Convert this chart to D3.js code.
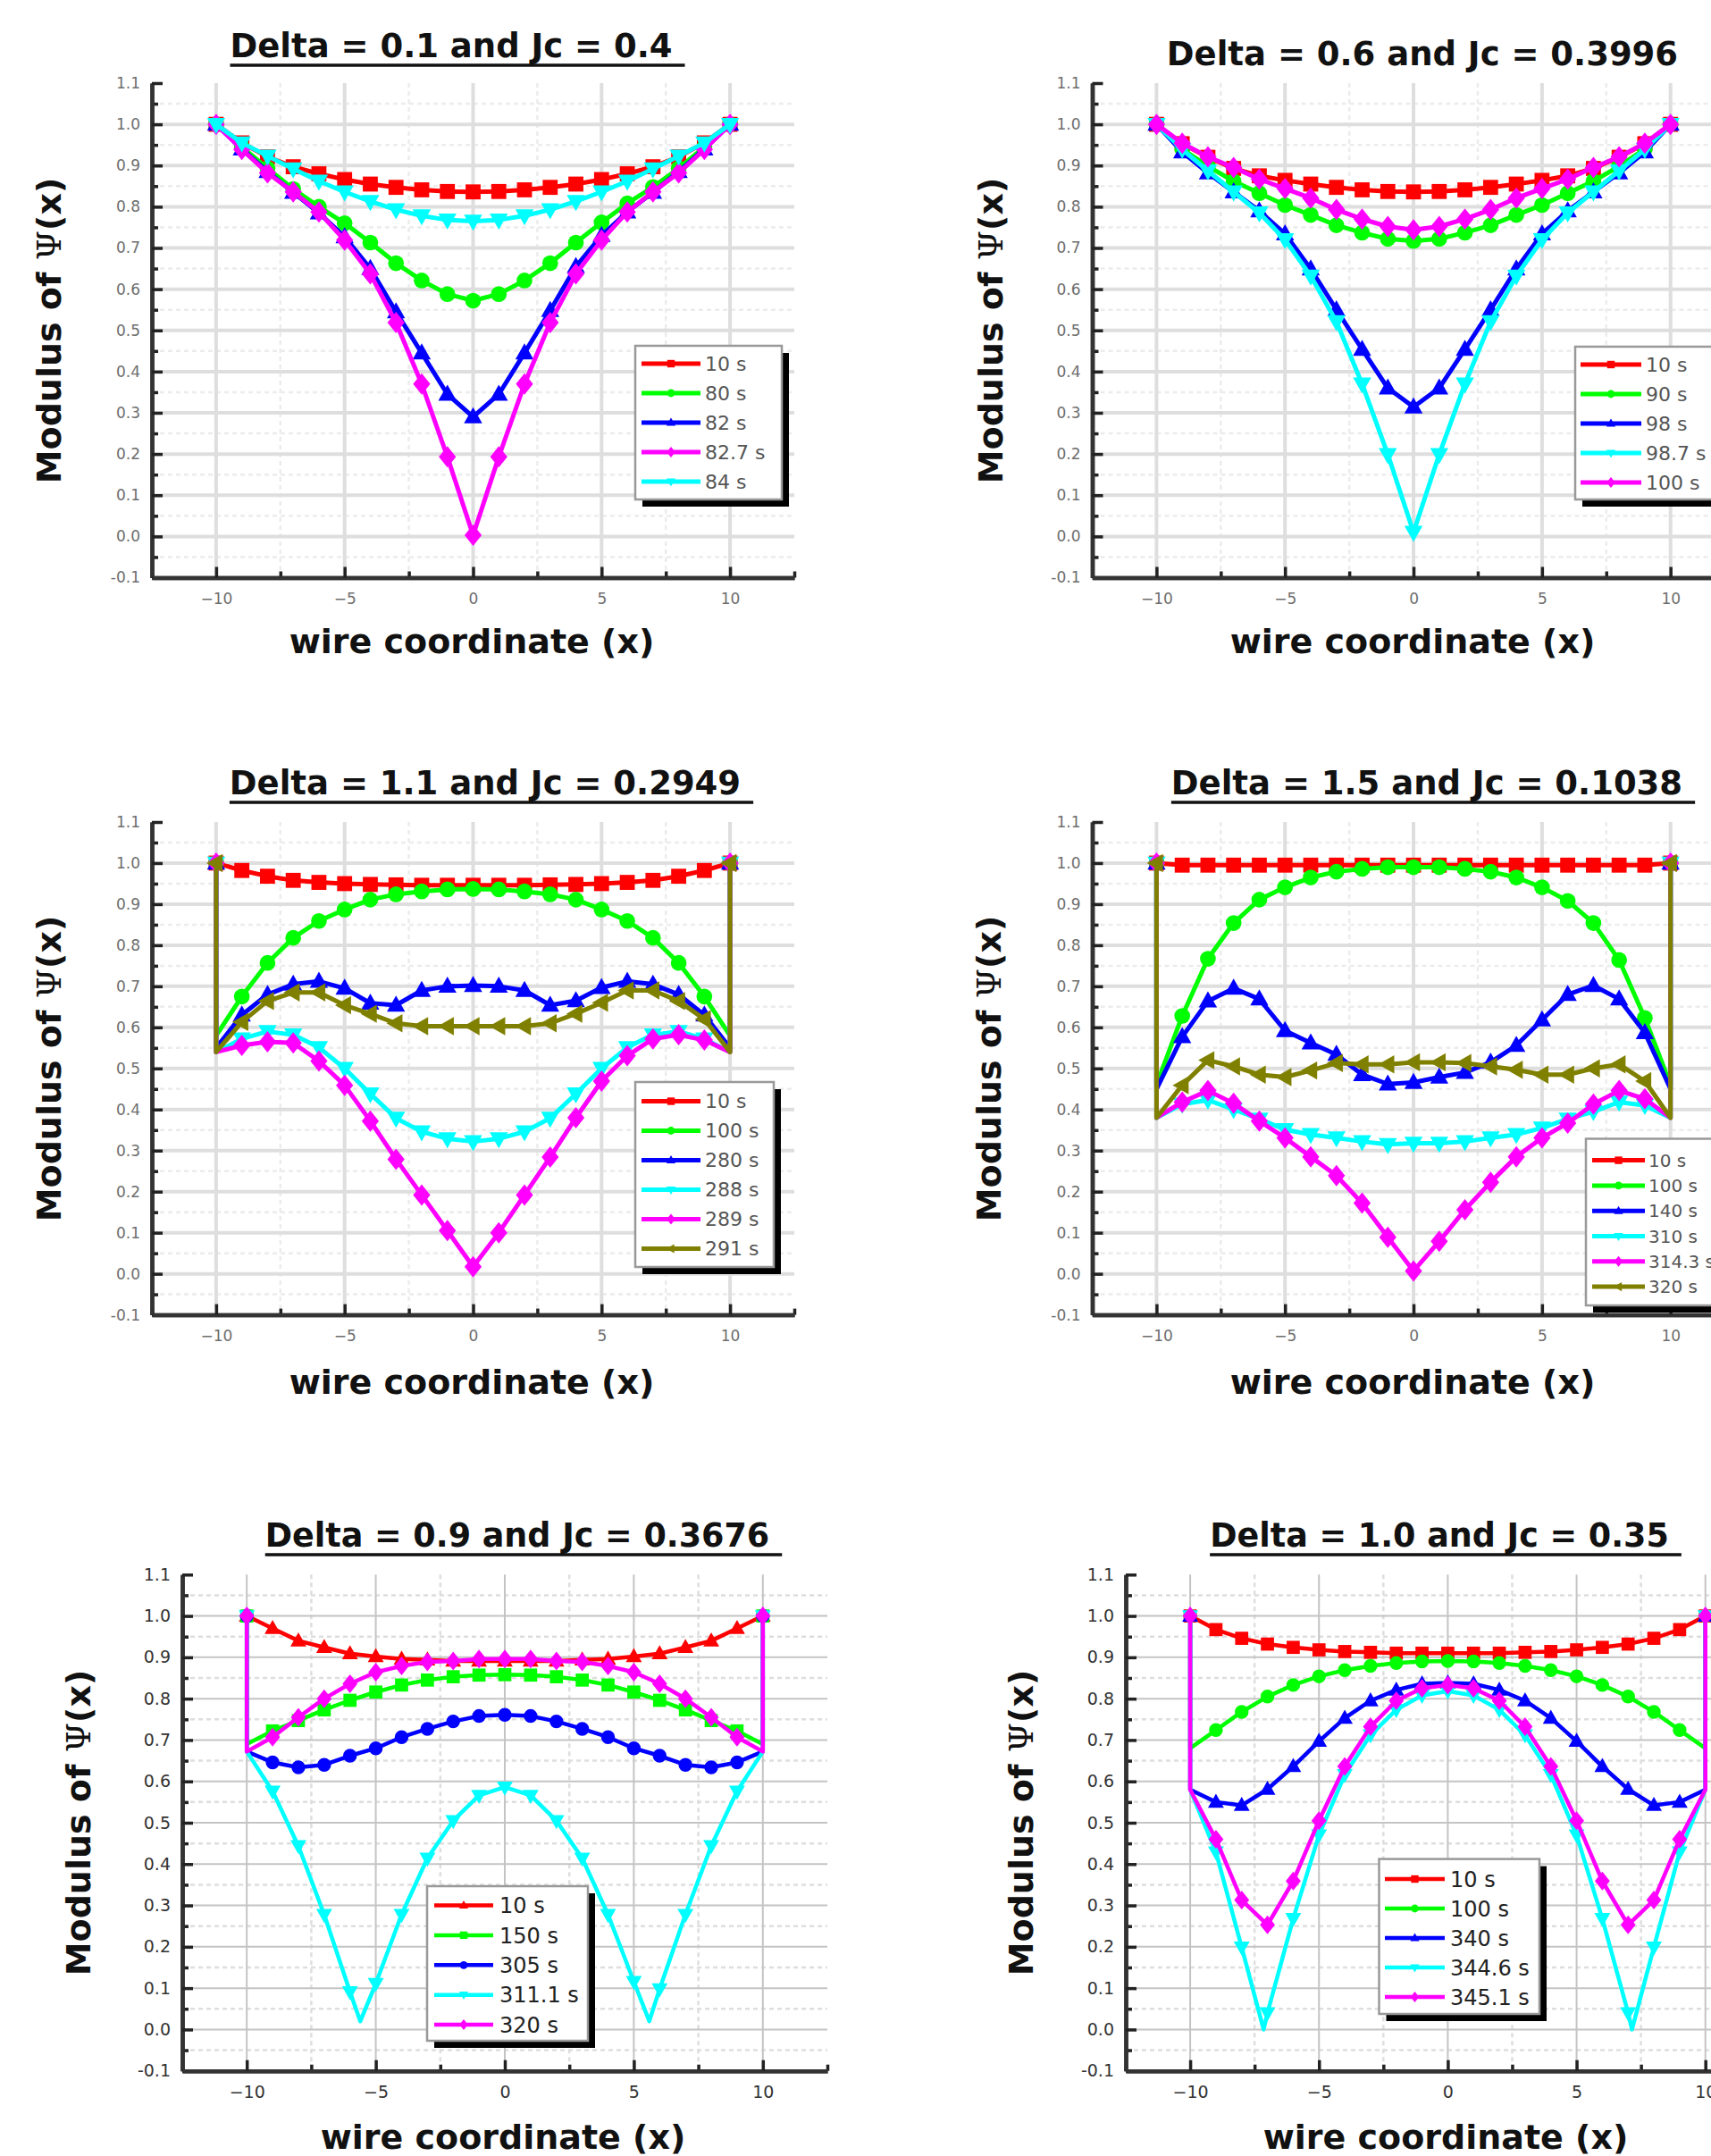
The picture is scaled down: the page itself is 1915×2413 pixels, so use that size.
<!DOCTYPE html>
<html>
<head>
<meta charset="utf-8">
<script src="https://cdnjs.cloudflare.com/ajax/libs/d3/7.8.5/d3.min.js"></script>
<style>
  body { margin: 0; background: #fff; }
</style>
</head>
<body>
<svg id="chart" width="1915" height="2413"></svg>
<script>
// ---------------- shared ----------------
const xPositions = [-10, -9, -8, -7, -6, -5, -4, -3, -2, -1, 0, 1, 2, 3, 4, 5, 6, 7, 8, 9, 10];
const xTickValues = [-10, -5, 0, 5, 10];
const yTickValues = [-0.1, 0, 0.1, 0.2, 0.3, 0.4, 0.5, 0.6, 0.7, 0.8, 0.9, 1.0, 1.1];
const yTickLabels = ["-0.1", "0.0", "0.1", "0.2", "0.3", "0.4", "0.5", "0.6", "0.7", "0.8", "0.9", "1.0", "1.1"];
const xAxisTitle = "wire coordinate (x)";

// ---------------- panel 1 ----------------
const p1Title = "Delta = 0.1 and Jc = 0.4";
const p1Labels = ["10 s", "80 s", "82 s", "82.7 s", "84 s"];
const p1Values = [
  [1.000, 0.955, 0.921, 0.897, 0.880, 0.866, 0.855, 0.847, 0.841, 0.837, 0.836, 0.837, 0.841, 0.847, 0.855, 0.866, 0.880, 0.897, 0.921, 0.955, 1.000],
  [1.000, 0.945, 0.893, 0.843, 0.800, 0.760, 0.713, 0.663, 0.621, 0.588, 0.572, 0.588, 0.621, 0.663, 0.713, 0.762, 0.808, 0.848, 0.893, 0.945, 1.000],
  [1.000, 0.940, 0.885, 0.835, 0.785, 0.727, 0.650, 0.545, 0.445, 0.345, 0.290, 0.345, 0.445, 0.548, 0.655, 0.730, 0.787, 0.835, 0.885, 0.940, 1.000],
  [1.000, 0.939, 0.882, 0.836, 0.787, 0.719, 0.637, 0.519, 0.370, 0.193, 0.003, 0.193, 0.370, 0.519, 0.637, 0.719, 0.787, 0.836, 0.882, 0.939, 1.000],
  [1.000, 0.955, 0.923, 0.892, 0.862, 0.836, 0.813, 0.793, 0.778, 0.768, 0.765, 0.768, 0.778, 0.793, 0.813, 0.836, 0.862, 0.892, 0.923, 0.955, 1.000]
];
const p1Edges = [null, null, null, null, null];
const p1Dips = [null, null, null, null, null];

// ---------------- panel 2 ----------------
const p2Title = "Delta = 0.6 and Jc = 0.3996";
const p2Labels = ["10 s", "90 s", "98 s", "98.7 s", "100 s"];
const p2Values = [
  [1.000, 0.953, 0.920, 0.893, 0.875, 0.864, 0.855, 0.847, 0.841, 0.837, 0.836, 0.837, 0.841, 0.847, 0.855, 0.864, 0.875, 0.893, 0.920, 0.953, 1.000],
  [1.000, 0.940, 0.898, 0.862, 0.833, 0.804, 0.780, 0.755, 0.737, 0.722, 0.717, 0.722, 0.737, 0.755, 0.780, 0.804, 0.833, 0.862, 0.898, 0.940, 1.000],
  [1.000, 0.933, 0.882, 0.836, 0.790, 0.734, 0.649, 0.550, 0.454, 0.360, 0.314, 0.360, 0.454, 0.550, 0.649, 0.734, 0.790, 0.836, 0.882, 0.933, 1.000],
  [1.000, 0.939, 0.887, 0.836, 0.785, 0.720, 0.632, 0.521, 0.370, 0.199, 0.010, 0.199, 0.370, 0.521, 0.632, 0.720, 0.785, 0.836, 0.887, 0.939, 1.000],
  [1.000, 0.954, 0.921, 0.895, 0.867, 0.844, 0.821, 0.793, 0.770, 0.752, 0.744, 0.752, 0.770, 0.793, 0.821, 0.844, 0.867, 0.895, 0.921, 0.954, 1.000]
];
const p2Edges = [null, null, null, null, null];
const p2Dips = [null, null, null, null, null];

// ---------------- panel 3 ----------------
const p3Title = "Delta = 1.1 and Jc = 0.2949";
const p3Labels = ["10 s", "100 s", "280 s", "288 s", "289 s", "291 s"];
const p3Values = [
  [1.000, 0.982, 0.968, 0.958, 0.953, 0.950, 0.948, 0.947, 0.946, 0.946, 0.946, 0.946, 0.946, 0.947, 0.948, 0.950, 0.953, 0.958, 0.968, 0.982, 1.000],
  [1.000, 0.675, 0.757, 0.818, 0.859, 0.887, 0.911, 0.924, 0.931, 0.936, 0.937, 0.936, 0.931, 0.924, 0.911, 0.887, 0.859, 0.818, 0.757, 0.675, 1.000],
  [1.000, 0.630, 0.680, 0.705, 0.712, 0.695, 0.659, 0.654, 0.690, 0.700, 0.702, 0.700, 0.690, 0.654, 0.665, 0.697, 0.712, 0.705, 0.680, 0.630, 1.000],
  [1.000, 0.572, 0.590, 0.582, 0.551, 0.500, 0.438, 0.379, 0.346, 0.329, 0.322, 0.329, 0.346, 0.379, 0.438, 0.500, 0.551, 0.582, 0.590, 0.572, 1.000],
  [1.000, 0.556, 0.565, 0.562, 0.518, 0.459, 0.372, 0.279, 0.192, 0.105, 0.017, 0.100, 0.192, 0.284, 0.380, 0.469, 0.531, 0.572, 0.582, 0.569, 1.000],
  [1.000, 0.613, 0.664, 0.685, 0.685, 0.654, 0.633, 0.610, 0.603, 0.603, 0.603, 0.603, 0.603, 0.610, 0.633, 0.660, 0.690, 0.690, 0.664, 0.620, 1.000]
];
// value the curve drops to right at the wire ends (x = ±10)
const p3Edges = [null, 0.58, 0.55, 0.54, 0.54, 0.54];
const p3Dips = [null, null, null, null, null, null];

// ---------------- panel 4 ----------------
const p4Title = "Delta = 1.5 and Jc = 0.1038";
const p4Labels = ["10 s", "100 s", "140 s", "310 s", "314.3 s", "320 s"];
const p4Values = [
  [1.000, 0.995, 0.995, 0.995, 0.995, 0.995, 0.995, 0.995, 0.995, 0.995, 0.995, 0.995, 0.995, 0.995, 0.995, 0.995, 0.995, 0.995, 0.995, 0.995, 1.000],
  [1.000, 0.628, 0.767, 0.854, 0.911, 0.941, 0.965, 0.979, 0.986, 0.990, 0.990, 0.990, 0.986, 0.979, 0.965, 0.941, 0.908, 0.854, 0.764, 0.623, 1.000],
  [1.000, 0.577, 0.664, 0.695, 0.669, 0.592, 0.562, 0.534, 0.485, 0.462, 0.466, 0.479, 0.490, 0.515, 0.556, 0.618, 0.680, 0.702, 0.669, 0.587, 1.000],
  [1.000, 0.413, 0.423, 0.400, 0.377, 0.351, 0.339, 0.331, 0.322, 0.315, 0.318, 0.318, 0.322, 0.331, 0.339, 0.355, 0.377, 0.395, 0.418, 0.410, 1.000],
  [1.000, 0.418, 0.446, 0.415, 0.372, 0.331, 0.285, 0.239, 0.172, 0.089, 0.007, 0.079, 0.156, 0.223, 0.285, 0.331, 0.367, 0.413, 0.446, 0.426, 1.000],
  [1.000, 0.459, 0.520, 0.505, 0.485, 0.479, 0.495, 0.513, 0.510, 0.510, 0.515, 0.515, 0.513, 0.505, 0.497, 0.485, 0.485, 0.500, 0.510, 0.469, 1.000]
];
const p4Edges = [null, 0.46, 0.45, 0.38, 0.38, 0.38];
const p4Dips = [null, null, null, null, null, null];

// ---------------- panel 5 ----------------
const p5Title = "Delta = 0.9 and Jc = 0.3676";
const p5Labels = ["10 s", "150 s", "305 s", "311.1 s", "320 s"];
const p5Values = [
  [1.000, 0.970, 0.940, 0.924, 0.909, 0.902, 0.896, 0.894, 0.891, 0.891, 0.891, 0.891, 0.891, 0.894, 0.896, 0.902, 0.909, 0.924, 0.940, 0.970, 1.000],
  [1.000, 0.722, 0.747, 0.773, 0.796, 0.816, 0.833, 0.845, 0.853, 0.857, 0.858, 0.857, 0.853, 0.845, 0.833, 0.816, 0.796, 0.773, 0.747, 0.722, 1.000],
  [1.000, 0.646, 0.634, 0.640, 0.662, 0.680, 0.707, 0.727, 0.745, 0.758, 0.761, 0.758, 0.745, 0.727, 0.707, 0.680, 0.662, 0.640, 0.634, 0.646, 1.000],
  [1.000, 0.576, 0.444, 0.278, 0.091, 0.111, 0.278, 0.414, 0.505, 0.566, 0.586, 0.566, 0.505, 0.414, 0.278, 0.116, 0.098, 0.278, 0.444, 0.576, 1.000],
  [1.000, 0.707, 0.755, 0.800, 0.836, 0.864, 0.879, 0.889, 0.891, 0.896, 0.896, 0.896, 0.891, 0.889, 0.879, 0.864, 0.836, 0.800, 0.755, 0.707, 1.000]
];
const p5Edges = [null, 0.69, 0.672, 0.672, 0.672];
// minima that fall between the marked grid points
const p5Dips = [null, null, null, [[-5.6, 0.02], [5.6, 0.02]], null];

// ---------------- panel 6 ----------------
const p6Title = "Delta = 1.0 and Jc = 0.35";
const p6Labels = ["10 s", "100 s", "340 s", "344.6 s", "345.1 s"];
const p6Values = [
  [1.000, 0.967, 0.946, 0.932, 0.924, 0.918, 0.914, 0.912, 0.910, 0.910, 0.910, 0.910, 0.910, 0.912, 0.914, 0.918, 0.924, 0.932, 0.946, 0.967, 1.000],
  [1.000, 0.724, 0.768, 0.805, 0.833, 0.854, 0.869, 0.879, 0.886, 0.890, 0.891, 0.890, 0.886, 0.879, 0.869, 0.854, 0.833, 0.805, 0.768, 0.724, 1.000],
  [1.000, 0.550, 0.542, 0.581, 0.636, 0.697, 0.753, 0.795, 0.821, 0.836, 0.838, 0.836, 0.821, 0.795, 0.753, 0.697, 0.636, 0.581, 0.542, 0.550, 1.000],
  [1.000, 0.429, 0.199, 0.040, 0.268, 0.470, 0.616, 0.712, 0.773, 0.808, 0.818, 0.808, 0.773, 0.712, 0.616, 0.470, 0.268, 0.040, 0.199, 0.429, 1.000],
  [1.000, 0.460, 0.313, 0.253, 0.359, 0.505, 0.636, 0.732, 0.795, 0.825, 0.833, 0.825, 0.795, 0.732, 0.636, 0.505, 0.359, 0.253, 0.313, 0.460, 1.000]
];
const p6Edges = [null, 0.68, 0.58, 0.58, 0.58];
const p6Dips = [null, null, null, [[-7.15, 0.0], [7.15, 0.0]], null];

// ---------------- styles ----------------
const RED = "#ff0000", GREEN = "#00ff00", BLUE = "#0000ff", CYAN = "#00ffff", MAGENTA = "#ff00ff", OLIVE = "#808000";

// marker paths, centred on 0,0 (scale k)
function markerPath(shape, k) {
  const s = k;
  switch (shape) {
    case "square": return `M${-7*s},${-7*s}h${14*s}v${14*s}h${-14*s}Z`;
    case "circle": return d3.symbol(d3.symbolCircle, 170 * s * s)();
    case "up": return `M0,${-9*s}L${8.5*s},${6*s}L${-8.5*s},${6*s}Z`;
    case "down": return `M0,${9*s}L${8.5*s},${-6*s}L${-8.5*s},${-6*s}Z`;
    case "left": return `M${-9*s},0L${6*s},${-8.5*s}L${6*s},${8.5*s}Z`;
    case "diamond": return `M0,${-10*s}L${8*s},0L0,${10*s}L${-8*s},0Z`;
  }
}

const svg = d3.select("#chart");

function drawPanel(p) {
  const L = p.layout;
  const x = d3.scaleLinear().domain([-12.5, 12.5]).range([L.xL, L.xR]);
  const y = d3.scaleLinear().domain([-0.1, 1.1]).range([L.yB, L.yT]);
  const g = svg.append("g");

  // grid
  const grid = g.append("g");
  grid.selectAll(".hmin").data(d3.range(-0.05, 1.1, 0.1)).join("line")
    .attr("x1", L.xL).attr("x2", L.xR)
    .attr("y1", d => y(d)).attr("y2", d => y(d))
    .attr("stroke", L.gridMinor).attr("stroke-width", 2.5).attr("stroke-dasharray", "5,4");
  grid.selectAll(".vmin").data([-7.5, -2.5, 2.5, 7.5]).join("line")
    .attr("x1", d => x(d)).attr("x2", d => x(d))
    .attr("y1", L.yT).attr("y2", L.yB)
    .attr("stroke", L.gridMinor).attr("stroke-width", 2.5).attr("stroke-dasharray", "5,4");
  grid.selectAll(".hmaj").data(yTickValues.slice(1, 12)).join("line")
    .attr("x1", L.xL).attr("x2", L.xR)
    .attr("y1", d => y(d)).attr("y2", d => y(d))
    .attr("stroke", L.gridMajor).attr("stroke-width", L.gridW);
  grid.selectAll(".vmaj").data(xTickValues).join("line")
    .attr("x1", d => x(d)).attr("x2", d => x(d))
    .attr("y1", L.yT).attr("y2", L.yB)
    .attr("stroke", L.gridMajor).attr("stroke-width", L.gridW);

  // axes
  const yAxis = d3.axisLeft(y).tickValues(yTickValues)
    .tickFormat((d, i) => yTickLabels[i]).tickSizeInner(-12).tickSizeOuter(0).tickPadding(13);
  const yMinor = d3.axisLeft(y).tickValues(d3.range(-0.05, 1.1, 0.1))
    .tickFormat("").tickSizeInner(-7).tickSizeOuter(0);
  const xAxis = d3.axisBottom(x).tickValues(xTickValues)
    .tickSizeInner(-12).tickSizeOuter(0).tickPadding(17);
  const xMinor = d3.axisBottom(x).tickValues([-12.5, -7.5, -2.5, 2.5, 7.5, 12.5])
    .tickFormat("").tickSizeInner(-7).tickSizeOuter(0);

  const axes = [
    g.append("g").attr("transform", `translate(${L.xL},0)`).call(yMinor),
    g.append("g").attr("transform", `translate(0,${L.yB})`).call(xMinor),
    g.append("g").attr("transform", `translate(${L.xL},0)`).call(yAxis),
    g.append("g").attr("transform", `translate(0,${L.yB})`).call(xAxis)
  ];
  axes.forEach(a => {
    a.select(".domain").attr("stroke", "#333").attr("stroke-width", 4.5);
    a.selectAll(".tick line").attr("stroke", "#222").attr("stroke-width", 3.5);
    a.selectAll(".tick text")
      .attr("font-family", "DejaVu Sans, sans-serif")
      .attr("font-size", L.tickFont).attr("fill", L.tickColor);
  });

  // curves
  const line = d3.line().x(d => x(d[0])).y(d => y(d[1]));
  const curves = g.append("g");
  p.values.forEach((vals, si) => {
    const pts = xPositions.map((xv, i) => [xv, vals[i], true]);
    const edge = p.edges[si];
    if (edge !== null) {
      pts.push([-10, edge, false]);
      pts.push([10, edge, false]);
    }
    const dips = p.dips[si];
    if (dips) dips.forEach(dp => pts.push([dp[0], dp[1], false]));
    // keep the jump order at the wire ends (1.0 outermost)
    const left = pts.filter(d => d[0] === -10).sort((a, b) => b[1] - a[1]);
    const right = pts.filter(d => d[0] === 10).sort((a, b) => a[1] - b[1]);
    const mid = pts.filter(d => d[0] > -10 && d[0] < 10).sort((a, b) => a[0] - b[0]);
    const ordered = left.concat(mid, right);

    const sg = curves.append("g");
    sg.append("path").datum(ordered)
      .attr("d", line)
      .attr("fill", "none")
      .attr("stroke", p.colors[si])
      .attr("stroke-width", L.lineW)
      .attr("stroke-linejoin", "round");
    sg.selectAll("path.mk").data(ordered.filter(d => d[2])).join("path")
      .attr("class", "mk")
      .attr("transform", d => `translate(${x(d[0])},${y(d[1])})`)
      .attr("d", markerPath(p.shapes[si], L.markK))
      .attr("fill", p.colors[si]);
  });

  // title
  const title = g.append("text")
    .attr("x", L.titleX).attr("y", L.titleY)
    .attr("text-anchor", "middle")
    .attr("font-family", "DejaVu Sans, sans-serif")
    .attr("font-weight", "bold")
    .attr("font-size", L.titleFont)
    .attr("fill", "#111")
    .text(p.title);
  if (L.underline) {
    const bb = title.node().getBBox();
    g.append("line")
      .attr("x1", bb.x).attr("x2", bb.x + bb.width + L.underExtra)
      .attr("y1", L.titleY + L.underGap).attr("y2", L.titleY + L.underGap)
      .attr("stroke", "#111").attr("stroke-width", 3.5);
  }

  // axis titles
  g.append("text")
    .attr("x", L.xTitleX).attr("y", L.xTitleY)
    .attr("text-anchor", "middle")
    .attr("font-family", "DejaVu Sans, sans-serif")
    .attr("font-weight", "bold").attr("font-size", L.axisFont).attr("fill", "#111")
    .text(xAxisTitle);
  const yt = g.append("text")
    .attr("transform", `translate(${L.yTitleX},${L.yTitleY}) rotate(-90)`)
    .attr("text-anchor", "middle")
    .attr("font-family", "DejaVu Sans, sans-serif")
    .attr("font-weight", "bold").attr("font-size", L.axisFont).attr("fill", "#111");
  yt.append("tspan").text("Modulus of ");
  yt.append("tspan").attr("font-family", "DejaVu Serif, serif").attr("font-weight", "normal").text("\u03A8");
  yt.append("tspan").text("(x)");

  // legend
  const lg = g.append("g");
  const LG = L.legend;
  lg.append("rect")
    .attr("x", LG.x + 8).attr("y", LG.y + 8).attr("width", LG.w).attr("height", LG.h)
    .attr("fill", "#000");
  lg.append("rect")
    .attr("x", LG.x).attr("y", LG.y).attr("width", LG.w).attr("height", LG.h)
    .attr("fill", "#fff").attr("stroke", "#999").attr("stroke-width", 2.5);
  p.labels.forEach((lab, i) => {
    const ry = LG.row0 + i * LG.step;
    lg.append("line")
      .attr("x1", LG.lx1).attr("x2", LG.lx2).attr("y1", ry).attr("y2", ry)
      .attr("stroke", p.colors[i]).attr("stroke-width", L.lineW);
    lg.append("path")
      .attr("transform", `translate(${(LG.lx1 + LG.lx2) / 2},${ry})`)
      .attr("d", markerPath(p.shapes[i], 0.6))
      .attr("fill", p.colors[i]);
    lg.append("text")
      .attr("x", LG.tx).attr("y", ry)
      .attr("dy", "0.36em")
      .attr("font-family", "DejaVu Sans, sans-serif")
      .attr("font-size", LG.font).attr("fill", LG.color)
      .text(lab);
  });
}

const topStyle = { gridMajor: "#dedede", gridMinor: "#ececec", gridW: 4, tickFont: 17, tickColor: "#6e6e6e",
  lineW: 5, markK: 1.2, titleFont: 37, axisFont: 38, underGap: 9, underExtra: 14 };
const lowStyle = { gridMajor: "#c4c4c4", gridMinor: "#dedede", gridW: 2, tickFont: 19, tickColor: "#333",
  lineW: 4.5, markK: 1.05, titleFont: 36.5, axisFont: 38, underGap: 9, underExtra: 14 };

const panels = [
  { title: p1Title, labels: p1Labels, values: p1Values, edges: p1Edges, dips: p1Dips,
    colors: [RED, GREEN, BLUE, MAGENTA, CYAN], shapes: ["square", "circle", "up", "diamond", "down"],
    layout: Object.assign({}, topStyle, { xL: 170, xR: 889, yT: 93, yB: 646.5,
      titleX: 505, titleY: 64, underline: true, xTitleX: 528, xTitleY: 731, yTitleX: 68, yTitleY: 370,
      legend: { x: 711, y: 387, w: 164, h: 172, row0: 407, step: 33, lx1: 718, lx2: 784, tx: 789, font: 22, color: "#555" } }) },
  { title: p2Title, labels: p2Labels, values: p2Values, edges: p2Edges, dips: p2Dips,
    colors: [RED, GREEN, BLUE, CYAN, MAGENTA], shapes: ["square", "circle", "up", "down", "diamond"],
    layout: Object.assign({}, topStyle, { xL: 1222.5, xR: 1941.6, yT: 93, yB: 646.5,
      titleX: 1592, titleY: 73, underline: false, xTitleX: 1581, xTitleY: 731, yTitleX: 1122, yTitleY: 370,
      legend: { x: 1763, y: 388, w: 175, h: 171, row0: 408, step: 33, lx1: 1769, lx2: 1837, tx: 1842, font: 22, color: "#555" } }) },
  { title: p3Title, labels: p3Labels, values: p3Values, edges: p3Edges, dips: p3Dips,
    colors: [RED, GREEN, BLUE, CYAN, MAGENTA, OLIVE], shapes: ["square", "circle", "up", "down", "diamond", "left"],
    layout: Object.assign({}, topStyle, { xL: 170, xR: 889, yT: 920, yB: 1471.6,
      titleX: 543, titleY: 889, underline: true, xTitleX: 528, xTitleY: 1560, yTitleX: 68, yTitleY: 1196,
      legend: { x: 711, y: 1211, w: 155, h: 207, row0: 1232.5, step: 33, lx1: 718, lx2: 784, tx: 789, font: 22, color: "#555" } }) },
  { title: p4Title, labels: p4Labels, values: p4Values, edges: p4Edges, dips: p4Dips,
    colors: [RED, GREEN, BLUE, CYAN, MAGENTA, OLIVE], shapes: ["square", "circle", "up", "down", "diamond", "left"],
    layout: Object.assign({}, topStyle, { xL: 1222.5, xR: 1941.6, yT: 920, yB: 1471.6,
      titleX: 1597, titleY: 889, underline: true, xTitleX: 1581, xTitleY: 1560, yTitleX: 1120, yTitleY: 1196,
      legend: { x: 1775, y: 1274.5, w: 160, h: 186.5, row0: 1298.6, step: 28.3, lx1: 1782, lx2: 1841, tx: 1845, font: 20, color: "#555" } }) },
  { title: p5Title, labels: p5Labels, values: p5Values, edges: p5Edges, dips: p5Dips,
    colors: [RED, GREEN, BLUE, CYAN, MAGENTA], shapes: ["up", "square", "circle", "down", "diamond"],
    layout: Object.assign({}, lowStyle, { xL: 204, xR: 926, yT: 1762.3, yB: 2317.7,
      titleX: 579, titleY: 1731, underline: true, xTitleX: 563, xTitleY: 2405, yTitleX: 101, yTitleY: 2040,
      legend: { x: 478, y: 2111, w: 180, h: 173, row0: 2132.5, step: 33.4, lx1: 486, lx2: 552, tx: 559, font: 24, color: "#222" } }) },
  { title: p6Title, labels: p6Labels, values: p6Values, edges: p6Edges, dips: p6Dips,
    colors: [RED, GREEN, BLUE, CYAN, MAGENTA], shapes: ["square", "circle", "up", "down", "diamond"],
    layout: Object.assign({}, lowStyle, { xL: 1260, xR: 1980.8, yT: 1762.3, yB: 2317.7,
      titleX: 1611, titleY: 1731, underline: true, xTitleX: 1618, xTitleY: 2405, yTitleX: 1156, yTitleY: 2040,
      legend: { x: 1543.5, y: 2080.6, w: 179.5, h: 173.4, row0: 2103, step: 33, lx1: 1550, lx2: 1617, tx: 1623, font: 24, color: "#222" } }) }
];

panels.forEach(drawPanel);
</script>
</body>
</html>
